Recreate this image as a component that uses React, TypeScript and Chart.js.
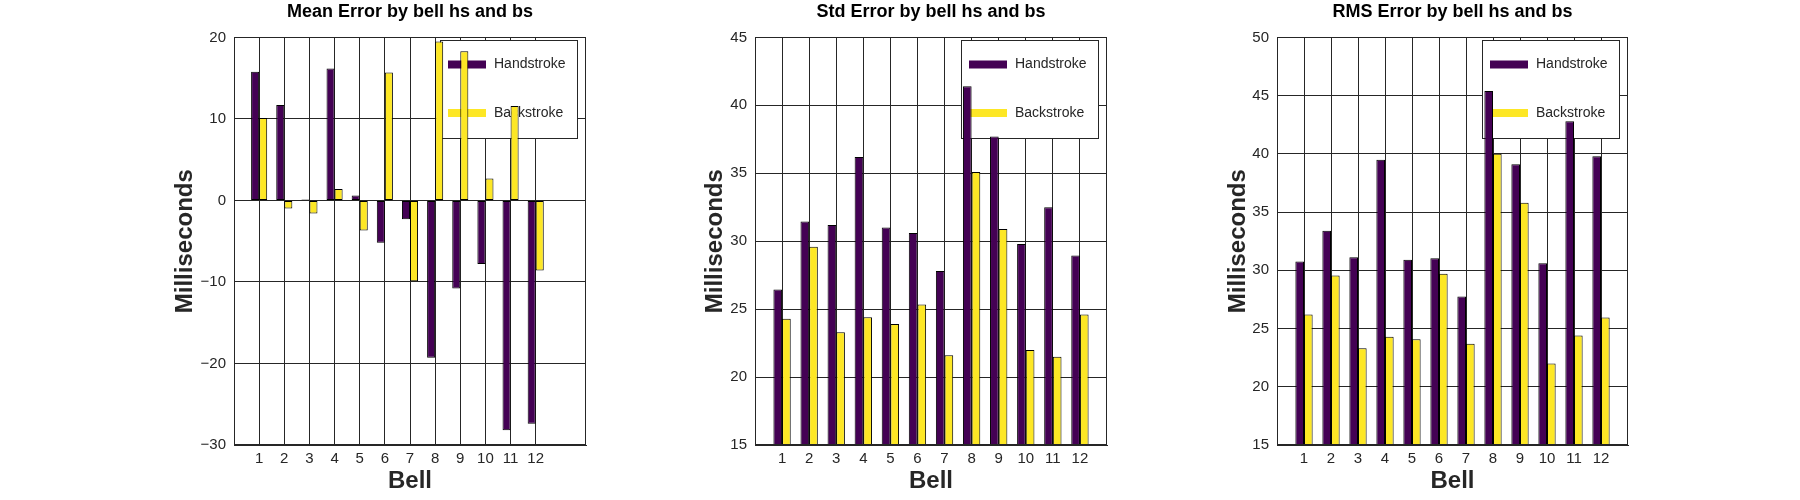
import React, { useEffect, useRef } from 'react';
import { Chart, registerables, type ChartConfiguration, type Plugin } from 'chart.js';

Chart.register(...registerables);

// Bell numbers (x axis)
const bells = [1, 2, 3, 4, 5, 6, 7, 8, 9, 10, 11, 12];
const seriesNames = ['Handstroke', 'Backstroke'];

// Mean error (ms)
const meanHs = [15.8, 11.7, 0.1, 16.2, 0.6, -5.2, -2.3, -19.3, -10.8, -7.8, -28.2, -27.4];
const meanBs = [10.1, -1.0, -1.6, 1.4, -3.7, 15.7, -9.9, 19.5, 18.3, 2.7, 11.6, -8.6];

// Std error (ms)
const stdHs = [26.45, 31.45, 31.2, 36.2, 31.0, 30.6, 27.8, 41.4, 37.7, 29.8, 32.5, 28.95];
const stdBs = [24.3, 29.6, 23.3, 24.4, 23.9, 25.35, 21.6, 35.1, 30.9, 22.0, 21.5, 24.6];

// RMS error (ms)
const rmsHs = [30.76, 33.4, 31.13, 39.5, 30.9, 31.04, 27.75, 45.4, 39.1, 30.6, 42.8, 39.8];
const rmsBs = [26.2, 29.56, 23.3, 24.3, 24.07, 29.7, 23.7, 40.0, 35.8, 22.0, 24.4, 25.95];

const HS_COLOR = '#440154';
const BS_COLOR = '#FDE725';
const INK = '#262626';
const FONT = '"Liberation Sans", Arial, sans-serif';

// Boxed legend drawn over the grid but under the bars
const boxLegend: Plugin<'bar'> = {
  id: 'boxLegend',
  beforeDatasetsDraw(chart) {
    const { ctx, chartArea } = chart;
    const w = 137;
    const h = 98;
    const x = Math.round(chartArea.right - 9.5 - w);
    const y = Math.round(chartArea.top + 3);
    ctx.save();
    ctx.fillStyle = '#fff';
    ctx.fillRect(x, y, w, h);
    ctx.strokeStyle = INK;
    ctx.lineWidth = 1;
    ctx.strokeRect(x + 0.5, y + 0.5, w, h);
    ctx.font = `14px ${FONT}`;
    ctx.textBaseline = 'middle';
    ctx.textAlign = 'left';
    chart.data.datasets.forEach((ds, i) => {
      const cy = y + 24.5 + i * 48.5;
      ctx.fillStyle = ds.backgroundColor as string;
      ctx.fillRect(x + 8, cy - 4, 38, 8);
      ctx.fillStyle = INK;
      ctx.fillText(ds.label ?? '', x + 54, cy);
    });
    ctx.restore();
  }
};

// Box around the whole axes area
const axesFrame: Plugin<'bar'> = {
  id: 'axesFrame',
  afterDatasetsDraw(chart) {
    const { ctx, chartArea } = chart;
    ctx.save();
    ctx.strokeStyle = INK;
    ctx.lineWidth = 1;
    ctx.strokeRect(
      Math.round(chartArea.left) + 0.5,
      Math.round(chartArea.top) + 0.5,
      Math.round(chartArea.right) - Math.round(chartArea.left) - 1,
      Math.round(chartArea.bottom) - Math.round(chartArea.top) - 1
    );
    ctx.restore();
  }
};

const fmtTick = (v: number | string) => {
  const n = Number(v);
  return n < 0 ? `\u2212${Math.abs(n)}` : String(n);
};

interface PanelProps {
  title: string;
  hs: number[];
  bs: number[];
  yMin: number;
  yMax: number;
  yStep: number;
  xMax: number;
  left: number;
  width: number;
  yWidth: number;
}

const BarPanel: React.FC<PanelProps> = ({ title, hs, bs, yMin, yMax, yStep, xMax, left, width, yWidth }) => {
  const canvasRef = useRef<HTMLCanvasElement>(null);

  useEffect(() => {
    if (!canvasRef.current) return;
    const ctx = canvasRef.current.getContext('2d');
    if (!ctx) return;

    const config: ChartConfiguration<'bar', { x: number; y: number }[], number> = {
      type: 'bar',
      data: {
        datasets: [
          {
            label: seriesNames[0],
            data: bells.map((b, i) => ({ x: b, y: hs[i] })),
            backgroundColor: HS_COLOR,
            borderColor: '#000',
            borderWidth: 1,
            borderSkipped: false
          },
          {
            label: seriesNames[1],
            data: bells.map((b, i) => ({ x: b, y: bs[i] })),
            backgroundColor: BS_COLOR,
            borderColor: '#000',
            borderWidth: 1,
            borderSkipped: false
          }
        ]
      },
      options: {
        responsive: false,
        animation: false,
        categoryPercentage: 0.64,
        barPercentage: 1,
        layout: { padding: { left: 0, right: 10, top: 0, bottom: 0 } },
        plugins: {
          legend: { display: false },
          tooltip: { enabled: false },
          title: {
            display: true,
            text: title,
            fullSize: false,
            color: '#000',
            font: { family: FONT, size: 18, weight: 'bold' },
            padding: { top: 1.7, bottom: 14.1 }
          }
        },
        scales: {
          x: {
            type: 'linear',
            min: 0,
            max: xMax,
            offset: false,
            afterBuildTicks: (s) => {
              s.ticks = bells.map((v) => ({ value: v }));
            },
            afterFit: (s) => {
              s.height = 55;
            },
            ticks: {
              color: INK,
              font: { family: FONT, size: 15 },
              padding: 5,
              autoSkip: false,
              maxRotation: 0,
              callback: (v) => String(v)
            },
            grid: { color: INK, drawTicks: false, offset: false },
            border: { color: INK },
            title: {
              display: true,
              text: 'Bell',
              color: INK,
              font: { family: FONT, size: 24, weight: 'bold' },
              padding: { top: 0, bottom: 4 }
            }
          },
          y: {
            min: yMin,
            max: yMax,
            afterFit: (s) => {
              s.width = yWidth;
            },
            ticks: {
              stepSize: yStep,
              color: INK,
              font: { family: FONT, size: 15 },
              padding: 8,
              callback: fmtTick
            },
            grid: { color: INK, drawTicks: false },
            border: { color: INK },
            title: {
              display: true,
              text: 'Milliseconds',
              color: INK,
              font: { family: FONT, size: 24, weight: 'bold' },
              padding: { top: 0, bottom: 0 }
            }
          }
        }
      },
      plugins: [boxLegend, axesFrame]
    };

    const chart = new Chart(ctx, config);
    return () => chart.destroy();
  }, [title, hs, bs, yMin, yMax, yStep, xMax, yWidth]);

  return (
    <canvas
      ref={canvasRef}
      width={width}
      height={500}
      style={{ position: 'absolute', left, top: 0, width, height: 500 }}
    />
  );
};

export default function App() {
  return (
    <div style={{ position: 'absolute', left: 0, top: 0, width: 1800, height: 500, background: '#fff' }}>
      <BarPanel title="Mean Error by bell hs and bs" hs={meanHs} bs={meanBs}
        yMin={-30} yMax={20} yStep={10} xMax={14} left={171} width={425} yWidth={63} />
      <BarPanel title="Std Error by bell hs and bs" hs={stdHs} bs={stdBs}
        yMin={15} yMax={45} yStep={5} xMax={13} left={701} width={416} yWidth={54} />
      <BarPanel title="RMS Error by bell hs and bs" hs={rmsHs} bs={rmsBs}
        yMin={15} yMax={50} yStep={5} xMax={13} left={1224} width={414} yWidth={53} />
    </div>
  );
}
